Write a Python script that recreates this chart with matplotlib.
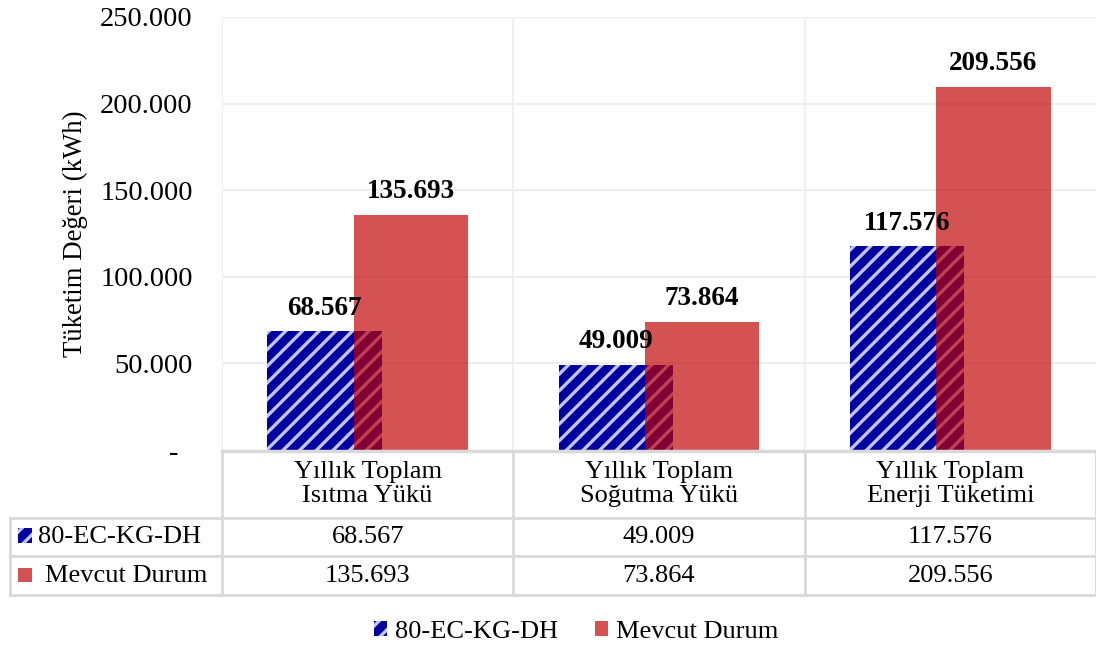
import matplotlib.pyplot as plt
from matplotlib.patches import Patch, Rectangle
from matplotlib.lines import Line2D
from matplotlib.transforms import blended_transform_factory
import numpy as np

plt.rcParams['font.family'] = ['Liberation Serif', 'DejaVu Serif']
plt.rcParams['hatch.linewidth'] = 2.4

# data
categories = ["Yıllık Toplam\nIsıtma Yükü", "Yıllık Toplam\nSoğutma Yükü", "Yıllık Toplam\nEnerji Tüketimi"]
series_names = ["80-EC-KG-DH", "Mevcut Durum"]
yeni = [68567, 49009, 117576]
mevcut = [135693, 73864, 209556]
y_ticks = [0, 50000, 100000, 150000, 200000, 250000]

BLUE = '#0000A0'
HATCH = '#C4C4FF'
RED = '#C00000'
RED_ALPHA = 0.68
GRID = '#EDEDED'
TABLE = '#D9D9D9'


def fmt(v):
    if v == 0:
        return '-  '
    return f"{v:,}".replace(',', '.')


W, H = 1096, 649
fig = plt.figure(figsize=(W / 100, H / 100), dpi=100)


def fy(py):
    return 1 - py / H


ax = fig.add_axes([222 / W, fy(450), (1096 - 222) / W, (450 - 17) / H])

x = np.arange(len(categories))
width = 0.392
off = 0.148
ax.bar(x - off, yeni, width, color=BLUE, edgecolor=HATCH, linewidth=0, hatch='//', zorder=2)
ax.bar(x + off, mevcut, width, color=RED, alpha=RED_ALPHA, linewidth=0, zorder=3)

for xi, v in zip(x - off, yeni):
    ax.annotate(fmt(v), (xi, v), xytext=(0, 12), textcoords='offset points',
                ha='center', va='baseline', fontsize=19.5, fontweight='bold', zorder=5)
for xi, v in zip(x + off, mevcut):
    ax.annotate(fmt(v), (xi, v), xytext=(0, 12), textcoords='offset points',
                ha='center', va='baseline', fontsize=19.5, fontweight='bold', zorder=5)

ax.set_xlim(-0.5, len(categories) - 0.5)
ax.set_ylim(0, 250000)
ax.set_yticks(y_ticks)
ax.set_yticklabels([fmt(t) for t in y_ticks], fontsize=20.5)
ax.tick_params(axis='y', length=0, pad=21)
ax.set_xticks([])
for s in ax.spines.values():
    s.set_visible(False)
for t in y_ticks[1:]:
    ax.axhline(t, color=GRID, lw=1.5, zorder=0)
for b in np.arange(-0.5, len(categories) - 0.4, 1.0)[:-1]:
    ax.axvline(b, color='#F0F0F0', lw=1.5, zorder=0)
ax.set_ylabel("Tüketim Değeri (kWh)", fontsize=19.3, labelpad=9)

# data table under the plot
bt = blended_transform_factory(ax.transData, fig.transFigure)
ft = fig.transFigure
row_y = [450, 518, 556, 595]
bounds = np.arange(-0.5, len(categories), 1.0)
x_left = 10 / W

# axis line and horizontal borders
fig.add_artist(Line2D([222 / W, 1], [fy(451), fy(451)], transform=ft, color=TABLE, lw=2.5))
for py in row_y[1:]:
    fig.add_artist(Line2D([x_left, 1], [fy(py), fy(py)], transform=ft, color=TABLE, lw=2))
# vertical borders
for b in bounds:
    fig.add_artist(Line2D([b, b], [fy(452), fy(595)], transform=bt, color=TABLE, lw=2))
fig.add_artist(Line2D([x_left, x_left], [fy(518), fy(595)], transform=ft, color=TABLE, lw=2))

for xi, cat in zip(x, categories):
    fig.text(xi, fy(484), cat, transform=bt, ha='center', va='center', fontsize=19, linespacing=1.15)
for xi, v in zip(x, yeni):
    fig.text(xi, fy(537), fmt(v), transform=bt, ha='center', va='center', fontsize=19)
for xi, v in zip(x, mevcut):
    fig.text(xi, fy(576), fmt(v), transform=bt, ha='center', va='center', fontsize=19)

# row labels with series keys
fig.add_artist(Rectangle((18 / W, fy(543)), 14 / W, 15 / H, transform=ft,
                         facecolor=BLUE, edgecolor=HATCH, linewidth=0, hatch='//'))
fig.text(38 / W, fy(537), series_names[0], ha='left', va='center', fontsize=19)
fig.add_artist(Rectangle((18 / W, fy(582)), 14 / W, 14 / H, transform=ft,
                         facecolor=RED, alpha=RED_ALPHA, linewidth=0))
fig.text(45 / W, fy(576), series_names[1], ha='left', va='center', fontsize=19)

handles = [Patch(facecolor=BLUE, edgecolor=HATCH, linewidth=0, hatch='//', label=series_names[0]),
           Patch(facecolor=RED, alpha=RED_ALPHA, linewidth=0, label=series_names[1])]
fig.legend(handles=handles, loc='center', bbox_to_anchor=(576 / W, fy(632)), ncol=2, frameon=False,
           fontsize=19, handlelength=0.5, handleheight=0.5, handletextpad=0.3, columnspacing=1.4)

fig.savefig('out.png', dpi=100)
